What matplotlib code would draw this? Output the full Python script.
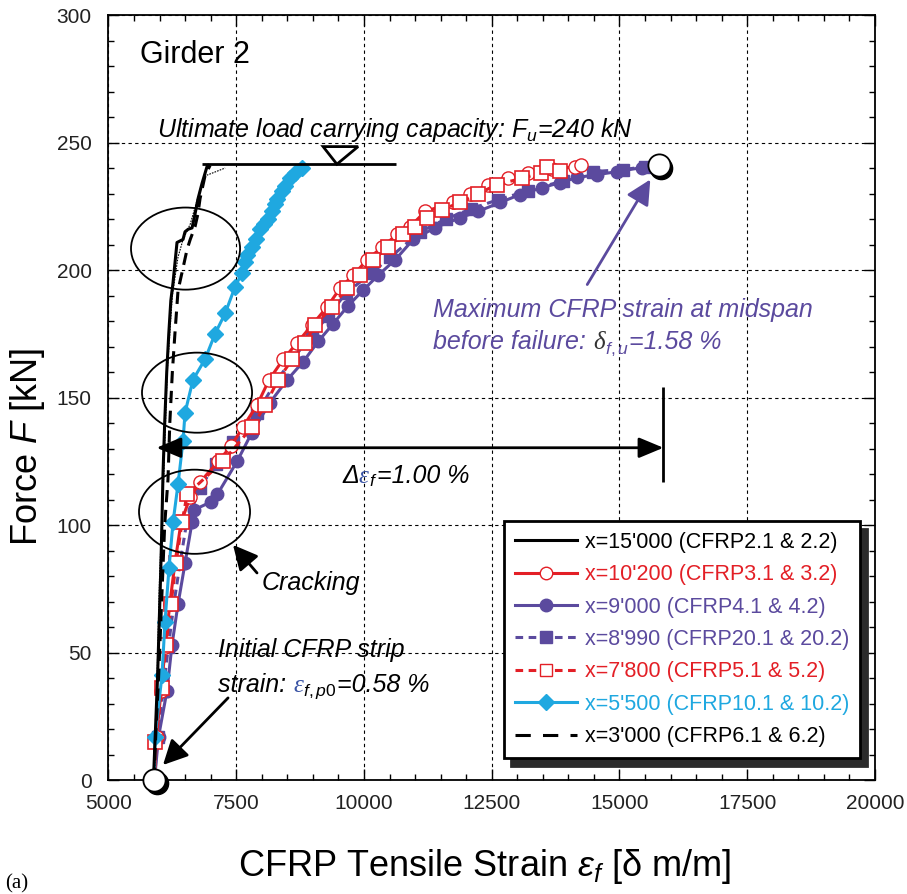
import matplotlib.pyplot as plt
from matplotlib.patches import Ellipse, Polygon
from matplotlib.offsetbox import TextArea, HPacker, AnnotationBbox
from matplotlib.lines import Line2D
from matplotlib.ticker import MultipleLocator
from matplotlib.transforms import offset_copy

plt.rcParams['font.family'] = ['Liberation Sans', 'DejaVu Sans']
plt.rcParams['mathtext.fontset'] = 'custom'
plt.rcParams['mathtext.rm'] = 'Liberation Sans'
plt.rcParams['mathtext.it'] = 'Liberation Sans:italic'
plt.rcParams['mathtext.sf'] = 'Liberation Sans'

RED = '#E31F26'
PURPLE = '#5B4A9E'
CYAN = '#1FA8E0'
BLUE = '#3953A4'

# strain gauge readings [micro strain] vs force [kN]
strain_15000 = [5880, 5920, 5960, 5990, 6020, 6045, 6067, 6100, 6140, 6180, 6220, 6263,
                6341, 6459, 6498, 6560, 6635, 6694, 6753, 6831, 6929, 6950]
force_15000 = [0, 20, 40, 60, 80, 100, 120, 140, 160, 175, 188, 195,
               210.8, 212, 215, 216, 216.5, 222, 228, 234, 240.6, 241]

strain_3000 = [5890, 5930, 5980, 6020, 6060, 6100, 6165, 6200, 6250, 6300, 6361, 6450,
               6537, 6600, 6694, 6750, 6792, 6890, 6988]
force_3000 = [0, 20, 40, 60, 80, 100, 118, 140, 160, 175, 192, 200,
              208, 212, 217, 222, 228, 237, 241]

strain_3000b = [5900, 5950, 6000, 6080, 6150, 6250, 6360, 6460, 6600, 6700, 6800, 6900,
                7030, 7283]
force_3000b = [0, 40, 80, 118, 160, 190, 205, 212, 218, 225, 232, 237, 238, 240]

strain_10200 = [5900, 5940, 6030, 6110, 6200, 6300, 6420, 6600, 6800, 7150, 7400, 7634,
                7906, 8145, 8420, 8694, 8990, 9282, 9537, 9790, 10062, 10356, 10650,
                10905, 11198, 11746, 12079, 12430, 12822, 13214, 13684, 14135, 14250]
force_10200 = [0, 17, 35, 52, 69, 85, 101, 111, 117, 125, 131, 138.5,
               147, 157, 165, 171.5, 178.6, 185.6, 193, 198, 204, 209, 214,
               217, 223, 226.5, 230, 233.5, 236, 238, 239.5, 240.5, 241]

strain_9000 = [5900, 5980, 6145, 6243, 6361, 6498, 6635, 6680, 7000, 7130, 7518, 7800,
               8160, 8500, 8810, 9104, 9400, 9690, 9980, 10280, 10611, 10964, 11394,
               11883, 12235, 12666, 13057, 13488, 13841, 14174, 14566, 14958, 15447, 15780]
force_9000 = [0, 17, 35, 53, 69, 85, 101, 106, 109, 112, 125, 136,
              148, 157, 164, 172, 179, 186, 192, 198, 204, 212, 216.6,
              220.5, 223, 226.5, 229.6, 232.3, 234.3, 236.3, 237.4, 238.6, 240.2, 241]

strain_8990 = [5900, 5960, 6070, 6170, 6280, 6400, 6530, 6792, 7100, 7439, 7906, 8302,
               8600, 8987, 9300, 9650, 10160, 10513, 11100, 11600, 12100, 12627, 13200,
               13900, 14488, 15075, 15500, 15780]
force_8990 = [0, 17, 35, 52, 69, 85, 101, 114.6, 124, 132.7, 144, 157,
              165, 174.6, 182, 191, 199, 205, 215, 220, 224, 227.6, 231,
              235, 238.6, 239.4, 240.5, 241]

strain_7800 = [5900, 5911, 6047, 6126, 6224, 6322, 6439, 6537, 7243, 7812, 8067, 8322,
               8596, 8850, 9046, 9380, 9673, 9925, 10180, 10474, 10768, 11000, 11236,
               11530, 11883, 12235, 12607, 13096, 13469, 13586, 13841]
force_7800 = [0, 15, 36, 53, 69, 85, 101, 112, 125, 138.5, 147, 157,
              165, 171.5, 178.6, 185.6, 193, 198, 204, 209, 214, 217, 220.5,
              223.7, 226.5, 230, 233.5, 236, 238, 240.5, 239]

strain_5500 = [5900, 5911, 6047, 6106, 6184, 6263, 6361, 6459, 6498, 6655, 6890, 7086,
               7283, 7479, 7616, 7680, 7714, 7800, 7880, 7969, 8050, 8126, 8200, 8260,
               8302, 8390, 8459, 8560, 8655, 8793]
force_5500 = [0, 17, 41, 62, 83, 101, 116, 133, 144, 157, 165, 175,
              183, 193.5, 199, 203, 206, 209, 212, 216, 218, 220, 223, 226,
              228, 231, 233, 236, 238, 240]

# start of test / failure point
key_strain = [5900, 15780]
key_force = [0, 241]

labels = ["x=15'000 (CFRP2.1 & 2.2)", "x=10'200 (CFRP3.1 & 3.2)", "x=9'000 (CFRP4.1 & 4.2)",
          "x=8'990 (CFRP20.1 & 20.2)", "x=7'800 (CFRP5.1 & 5.2)", "x=5'500 (CFRP10.1 & 10.2)",
          "x=3'000 (CFRP6.1 & 6.2)"]

F_ULT = 241.5

fig = plt.figure(figsize=(9.07, 8.94), dpi=100)
ax = fig.add_axes([0.1196, 0.1275, 0.8451, 0.8557])

lw = 2.2
ax.plot(strain_9000, force_9000, color=PURPLE, lw=lw, marker='o', ms=9, mfc=PURPLE, mec=PURPLE, zorder=3)
ax.plot(strain_8990, force_8990, color=PURPLE, lw=lw, dashes=(2.5, 1.8), marker='s', ms=8.5,
        mfc=PURPLE, mec=PURPLE, zorder=3)
ax.plot(strain_10200, force_10200, color=RED, lw=lw, marker='o', ms=9.5, mfc='white', mec=RED, zorder=3)
ax.plot(strain_7800, force_7800, color=RED, lw=lw, dashes=(2.5, 1.8), marker='s', ms=9.5,
        mfc='white', mec=RED, mew=1.2, zorder=3)
ax.plot(strain_5500, force_5500, color=CYAN, lw=lw, marker='D', ms=8.5, mfc=CYAN, mec=CYAN, zorder=3)
ax.plot(strain_3000b, force_3000b, color='black', lw=0.8, ls=(0, (1.5, 1)), zorder=3)
ax.plot(strain_15000, force_15000, color='black', lw=2.2, zorder=4)
ax.plot(strain_3000, force_3000, color='black', lw=2.2, dashes=(4, 2.5), zorder=4)

# initial and failure points with a shadow
shadow_tr = offset_copy(ax.transData, fig=fig, x=1.5, y=-2, units='points')
ax.plot(key_strain, key_force, ls='none', marker='o', ms=16, mfc='black', mec='black',
        transform=shadow_tr, clip_on=False, zorder=6)
ax.plot(key_strain, key_force, ls='none', marker='o', ms=16, mfc='white', mec='black',
        mew=1.3, clip_on=False, zorder=7)

ax.set_xlim(5000, 20000)
ax.set_ylim(0, 300)
ax.xaxis.set_major_locator(MultipleLocator(2500))
ax.xaxis.set_minor_locator(MultipleLocator(500))
ax.yaxis.set_major_locator(MultipleLocator(50))
ax.yaxis.set_minor_locator(MultipleLocator(10))
ax.tick_params(which='both', direction='in', top=True, right=True, width=1.0, colors='black')
ax.tick_params(which='major', length=8, labelsize=15, labelcolor='#222222')
ax.tick_params(which='minor', length=4)
ax.tick_params(axis='x', pad=10)
ax.tick_params(axis='y', pad=12)
for sp in ax.spines.values():
    sp.set_linewidth(1.3)
ax.grid(which='major', color='black', lw=0.8, ls=(0, (3, 3)))
ax.set_axisbelow(True)

ax.set_xlabel(r"CFRP Tensile Strain $\varepsilon_f$ [δ m/m]", fontsize=26, va='baseline')
ax.xaxis.set_label_coords(0.49, -0.125)
ax.set_ylabel(r"Force $F$ [kN]", fontsize=26, va='center')
ax.yaxis.set_label_coords(-0.106, 0.435)

# ellipses around the kinks
for cx, cy, w, h in [(6508, 208.4, 2134, 32.2), (6733, 151.9, 2154, 31.4), (6684, 105.2, 2173, 33)]:
    ax.add_patch(Ellipse((cx, cy), w, h, fc='none', ec='black', lw=1.3, zorder=5))

# ultimate load line and triangle
ax.hlines(F_ULT, 6824, 10627, color='black', lw=2, zorder=5)
ax.add_patch(Polygon([(9200, 248.4), (9885, 248.4), (9470, F_ULT)], closed=True,
                     fc='white', ec='black', lw=2, zorder=6))

# strain difference arrow
ax.annotate('', xy=(5940, 130.3), xytext=(15860, 130.3),
            arrowprops=dict(arrowstyle='<|-|>,head_length=0.6,head_width=0.25', mutation_scale=25,
                            color='black', lw=2, shrinkA=0, shrinkB=0), zorder=6)
ax.vlines(15860, 117, 154, color='black', lw=2, zorder=6)

arrow_kw = dict(arrowstyle='-|>,head_length=0.6,head_width=0.3', mutation_scale=25,
                lw=2, shrinkA=0, shrinkB=0)
ax.annotate('', xy=(7437, 92.2), xytext=(7907, 81.2), arrowprops=dict(color='black', **arrow_kw), zorder=6)
ax.annotate('', xy=(6067, 5.9), xytext=(7340, 32.2), arrowprops=dict(color='black', **arrow_kw), zorder=6)
ax.annotate('', xy=(15603, 235.5), xytext=(14369, 194.3), arrowprops=dict(color=PURPLE, **arrow_kw), zorder=6)

ax.text(5617, 284.5, 'Girder 2', fontsize=22, va='center')
ax.text(8006, 77.3, 'Cracking', fontsize=18, style='italic', va='center')
ax.text(5950, 255.1, r"Ultimate load carrying capacity: $F_u$=240 kN", fontsize=18,
        style='italic', va='center')
ax.text(7144, 51.0, 'Initial CFRP strip', fontsize=18, style='italic', va='center')
ax.text(11354, 184.5, 'Maximum CFRP strain at midspan', fontsize=18, style='italic',
        va='center', color=PURPLE)


def colored_text(x, y, parts, size=18):
    boxes = []
    for s, c, fam in parts:
        boxes.append(TextArea(s, textprops=dict(color=c, fontsize=size, style='italic', family=fam)))
    pack = HPacker(children=boxes, align='baseline', pad=0, sep=0)
    ab = AnnotationBbox(pack, (x, y), xycoords='data', frameon=False, box_alignment=(0, 0.5),
                        pad=0, zorder=8)
    ax.add_artist(ab)


SANS = 'Liberation Sans'
SERIF = 'Liberation Serif'
colored_text(7144, 36.5, [('strain: ', 'black', SANS), ('ε', BLUE, SERIF),
                          (r'$_{f,p0}$', 'black', SANS), ('=0.58 %', 'black', SANS)])
colored_text(11354, 171.0, [('before failure: ', PURPLE, SANS), ('δ', '#333333', SERIF),
                            (r'$_{f,u}$', PURPLE, SANS), ('=1.58 %', PURPLE, SANS)])
colored_text(9572, 119.0, [('Δ', 'black', SANS), ('ε', BLUE, SERIF),
                           (r'$_{f}$', 'black', SANS), ('=1.00 %', 'black', SANS)])

handles = [
    Line2D([], [], color='black', lw=2.2),
    Line2D([], [], color=RED, lw=2.2, marker='o', ms=9, mfc='white', mec=RED),
    Line2D([], [], color=PURPLE, lw=2.2, marker='o', ms=9, mfc=PURPLE, mec=PURPLE),
    Line2D([], [], color=PURPLE, lw=2.2, dashes=(2.5, 1.8), marker='s', ms=8.5, mfc=PURPLE, mec=PURPLE),
    Line2D([], [], color=RED, lw=2.2, dashes=(2.5, 1.8), marker='s', ms=9, mfc='white', mec=RED),
    Line2D([], [], color=CYAN, lw=2.2, marker='D', ms=8.5, mfc=CYAN, mec=CYAN),
    Line2D([], [], color='black', lw=2.2, dashes=(5, 4)),
]
leg = ax.legend(handles, labels, loc='lower right', bbox_to_anchor=(0.980, 0.0288),
                borderaxespad=0, fontsize=15.5, fancybox=False, edgecolor='black', framealpha=1,
                shadow={'ox': 5.5, 'oy': -5.5, 'facecolor': '#2b2b2b', 'edgecolor': '#2b2b2b', 'alpha': 1},
                labelcolor='linecolor', handlelength=2.9, handletextpad=0.35, labelspacing=0.53,
                borderpad=0.5, numpoints=1)
leg.get_frame().set_linewidth(2)
leg.set_zorder(10)

fig.text(5 / 907, 0.001, '(a)', fontsize=15, family='Liberation Serif', va='bottom')

fig.savefig('out.png', dpi=100)
